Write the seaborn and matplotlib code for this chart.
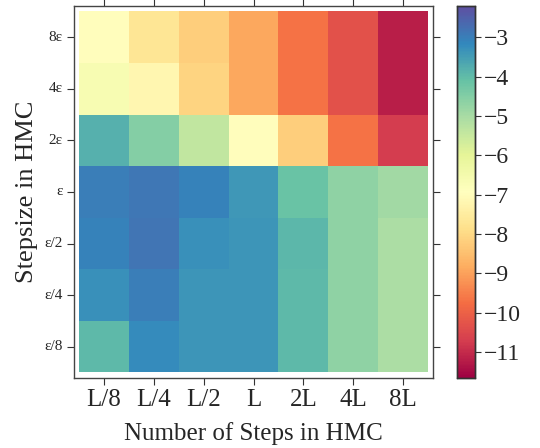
import numpy as np
import pandas as pd
import matplotlib
matplotlib.use("Agg")
import matplotlib.pyplot as plt
import seaborn as sns

steps = ["L/8", "L/4", "L/2", "L", "2L", "4L", "8L"]
stepsizes = ["8ε", "4ε", "2ε", "ε", "ε/2", "ε/4", "ε/8"]
row_8e = [-7.0, -7.7, -8.2, -8.9, -9.7, -10.3, -11.2]
row_4e = [-6.6, -7.2, -8.1, -8.9, -9.7, -10.3, -11.2]
row_2e = [-3.8, -4.5, -5.4, -7.0, -8.2, -9.7, -10.7]
row_e = [-3.0, -2.9, -3.05, -3.4, -4.15, -4.65, -4.9]
row_e2 = [-3.05, -2.85, -3.3, -3.35, -3.9, -4.65, -5.05]
row_e4 = [-3.3, -3.0, -3.35, -3.35, -3.95, -4.65, -5.05]
row_e8 = [-3.95, -3.2, -3.35, -3.35, -3.95, -4.65, -5.05]
vmin, vmax = -11.66, -2.2

df = pd.DataFrame([row_8e, row_4e, row_2e, row_e, row_e2, row_e4, row_e8],
                  index=stepsizes, columns=steps)

sns.set_style("white")
plt.rcParams['font.family'] = ['Liberation Serif', 'DejaVu Serif']
plt.rcParams['axes.unicode_minus'] = True

fig = plt.figure(figsize=(5.4, 4.48), dpi=100)
ax = fig.add_axes([0.137, 0.156, 0.665, 0.831])
cax = fig.add_axes([0.846, 0.156, 0.033, 0.831])

sns.heatmap(df, ax=ax, cbar_ax=cax, cmap="Spectral", vmin=vmin, vmax=vmax,
            linewidths=0, square=False)

ax.set_xlim(-0.1, 7.1)
ax.set_ylim(7.11, -0.11)
for s in ax.spines.values():
    s.set_visible(True)
    s.set_color("#444444")
    s.set_linewidth(1.0)
ax.tick_params(axis="both", which="both", top=True, right=True, bottom=True, left=True,
               direction="out", length=5, width=0.8, color="#333333")
ax.tick_params(axis="x", labelsize=18, pad=3)
ax.tick_params(axis="y", labelsize=11, pad=3)
ax.set_xticklabels(steps, rotation=0)
ax.set_yticklabels(stepsizes, rotation=0)
ax.set_xlabel("Number of Steps in HMC", fontsize=18, labelpad=8)
ax.set_ylabel("Stepsize in HMC", fontsize=19, labelpad=5)

cax.set_yticks([-3, -4, -5, -6, -7, -8, -9, -10, -11])
cax.tick_params(axis="y", labelsize=17, direction="out", length=4.5, width=0.8, right=True,
                color="#333333", pad=2)
for s in cax.spines.values():
    s.set_visible(True)
    s.set_color("#333333")
    s.set_linewidth(1.0)

fig.savefig("out.png", dpi=100)
